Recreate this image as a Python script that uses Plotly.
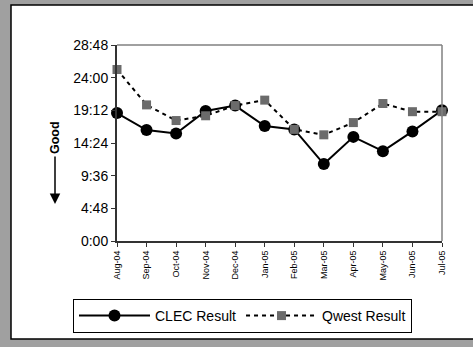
import plotly.graph_objects as go

months = ["Aug-04", "Sep-04", "Oct-04", "Nov-04", "Dec-04", "Jan-05",
          "Feb-05", "Mar-05", "Apr-05", "May-05", "Jun-05", "Jul-05"]
# values in hours
clec = [18.8, 16.3, 15.8, 19.1, 19.9, 16.9, 16.4, 11.3, 15.3, 13.2, 16.1, 19.2]
qwest = [25.2, 20.0, 17.7, 18.4, 19.9, 20.7, 16.4, 15.6, 17.4, 20.2, 19.0, 19.0]
tick_vals = [0, 4.8, 9.6, 14.4, 19.2, 24.0, 28.8]
tick_text = ["0:00", "4:48", "9:36", "14:24", "19:12", "24:00", "28:48"]

W, H = 473, 347
L, R, T, B = 117, 442, 45, 241  # plot area in px


def px(xp):
    return (xp - L) / (R - L)


def py(yp):
    return (B - yp) / (B - T)


fig = go.Figure()
fig.add_trace(go.Scatter(
    x=months, y=clec, name="CLEC Result", mode="lines+markers",
    line=dict(color="black", width=2),
    marker=dict(symbol="circle", size=12, color="black"),
    cliponaxis=False))
fig.add_trace(go.Scatter(
    x=months, y=qwest, name="Qwest Result", mode="lines+markers",
    line=dict(color="black", width=2, dash="4px,4px"),
    marker=dict(symbol="square", size=9, color="#6b6b6b"),
    cliponaxis=False))

font = "Liberation Sans, Arial, sans-serif"

fig.update_layout(
    width=W, height=H,
    margin=dict(l=L, r=W - R, t=T, b=H - B, pad=0, autoexpand=False),
    paper_bgcolor="#a0a0a0", plot_bgcolor="white",
    font=dict(family=font, size=14, color="black"),
    showlegend=True,
    legend=dict(orientation="h", x=px(73), xanchor="left",
                y=py(299), yanchor="top",
                bgcolor="white", bordercolor="black", borderwidth=1,
                font=dict(size=14), itemwidth=71, tracegroupgap=0),
    xaxis=dict(type="category", range=[0, 11], showgrid=False,
               showline=True, linecolor="#333333", linewidth=2,
               ticks="outside", ticklen=4, tickcolor="#333333",
               tickangle=-90, tickfont=dict(size=9), zeroline=False,
               automargin=False),
    yaxis=dict(range=[0, 28.8], tickvals=tick_vals, ticktext=tick_text,
               showgrid=False, showline=True, linecolor="#333333",
               linewidth=2, ticks="outside", ticklen=4,
               tickcolor="#333333", tickfont=dict(size=14),
               zeroline=False, automargin=False),
)

shapes = [
    dict(type="rect", xref="paper", yref="paper", layer="below",
         x0=px(11), x1=px(490), y0=py(339), y1=py(5),
         fillcolor="white", line=dict(color="black", width=1.5)),
    dict(type="line", xref="paper", yref="paper",
         x0=0, x1=1, y0=1, y1=1, line=dict(color="#808080", width=1.5)),
    dict(type="line", xref="paper", yref="paper",
         x0=1, x1=1, y0=0, y1=1, line=dict(color="#808080", width=1.5)),
]
fig.update_layout(shapes=shapes)

fig.add_annotation(xref="paper", yref="paper", x=px(46), y=py(138),
                   text="<b>Good</b>", textangle=-90, showarrow=False,
                   font=dict(size=12.5))
fig.add_annotation(xref="paper", yref="paper", x=px(55), y=py(204),
                   ax=0, ay=-49, text="", showarrow=True,
                   arrowhead=2, arrowsize=1.4, arrowwidth=1.5,
                   arrowcolor="black")

fig.write_html("out.html", config={"displayModeBar": False},
               post_script="document.body.style.margin='0px';")
